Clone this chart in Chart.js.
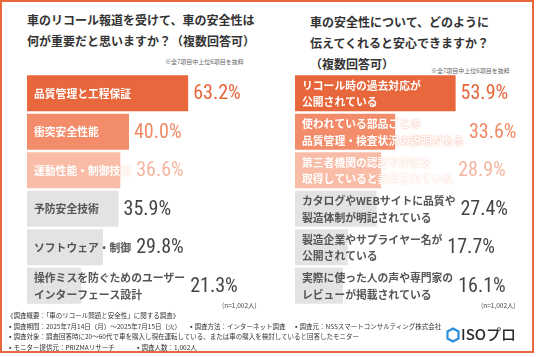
<!DOCTYPE html>
<html><head><meta charset="utf-8">
<script src="https://cdn.jsdelivr.net/npm/chart.js@4/dist/chart.umd.min.js"></script>
<style>
html,body{margin:0;padding:0;background:#fff;}
#root{position:absolute;left:0;top:0;width:536px;height:357px;overflow:hidden;font-family:'Noto Sans CJK JP','Noto Sans',sans-serif;color:#333;background:#fff;}
#frame{position:absolute;left:0;top:0;width:530px;height:349px;border:2px solid #E8673C;}
.title{position:absolute;font-size:12px;font-weight:700;line-height:21px;color:#333;white-space:nowrap;}
.note{position:absolute;font-size:6px;color:#666;white-space:nowrap;line-height:8px;}
.n{position:absolute;font-size:6.5px;color:#444;white-space:nowrap;line-height:8px;}
.foot{position:absolute;font-size:6.5px;color:#333;white-space:nowrap;line-height:9px;}
canvas{position:absolute;}
#logo{position:absolute;left:446px;top:326px;height:18px;white-space:nowrap;}
#logo span{position:absolute;left:15px;top:-3px;font-family:'Noto Sans CJK JP';font-size:15px;font-weight:500;color:#2b2b2b;line-height:22px;}
</style>
</head><body>
<div id="root">
  <div id="frame"></div>
  <div class="title" style="left:27px;top:9px;">車のリコール報道を受けて、車の安全性は<br>何が重要だと思いますか？（複数回答可）</div>
  <div class="note" style="left:165px;top:58px;">※全7項目中上位6項目を抜粋</div>
  <div class="title" style="left:310px;top:11px;">車の安全性について、どのように<br>伝えてくれると安心できますか？<br>（複数回答可）</div>
  <div class="note" style="left:431px;top:67px;">※全7項目中上位6項目を抜粋</div>
  <div style="position:absolute;left:27px;top:74px;width:240px;height:231px;"><canvas id="c1"></canvas></div>
  <div style="position:absolute;left:295px;top:74px;width:236px;height:231px;"><canvas id="c2"></canvas></div>
  <div class="n" style="left:222px;top:301px;">(n=1,002人)</div>
  <div class="n" style="left:481px;top:301px;">(n=1,002人)</div>
  <div class="foot" style="left:7px;top:311px;">《調査概要：「車のリコール問題と安全性」に関する調査》</div>
  <div class="foot" style="left:7px;top:322px;">▪調査期間：2025年7月14日（月）～2025年7月15日（火）</div>
  <div class="foot" style="left:188px;top:322px;">▪調査方法：インターネット調査</div>
  <div class="foot" style="left:293px;top:322px;">▪調査元：NSSスマートコンサルティング株式会社</div>
  <div class="foot" style="left:7px;top:332px;">▪調査対象：調査回答時に20～60代で車を購入し現在運転している、または車の購入を検討していると回答したモニター</div>
  <div class="foot" style="left:7px;top:343px;">▪モニター提供元：PRIZMAリサーチ</div>
  <div class="foot" style="left:135px;top:343px;">▪調査人数：1,002人</div>
  <div id="logo">
    <svg width="14" height="16" viewBox="0 0 14 16" style="position:absolute;left:0;top:1px;">
      <polygon points="7,1.5 12.5,4.5 12.5,11.5 7,14.5 1.5,11.5 1.5,4.5" fill="none" stroke="#2A8FD8" stroke-width="2.2"/>
    </svg>
    <span>ISOプロ</span>
  </div>
</div>
<script>
const leftCategories = [
  ["品質管理と工程保証"],
  ["衝突安全性能"],
  ["運動性能・制御技術"],
  ["予防安全技術"],
  ["ソフトウェア・制御"],
  ["操作ミスを防ぐためのユーザー", "インターフェース設計"]
];
const leftValues = [63.2, 40.0, 36.6, 35.9, 29.8, 21.3];

const rightCategories = [
  ["リコール時の過去対応が", "公開されている"],
  ["使われている部品ごとの", "品質管理・検査状況の説明がある"],
  ["第三者機関の認証や評価を", "取得していると表示されている"],
  ["カタログやWEBサイトに品質や", "製造体制が明記されている"],
  ["製造企業やサプライヤー名が", "公開されている"],
  ["実際に使った人の声や専門家の", "レビューが掲載されている"]
];
const rightValues = [53.9, 33.6, 28.9, 27.4, 17.7, 16.1];

const barColors = ["#E8673C", "#F38C6A", "#F9BCA6", "#E3E3E3", "#E3E3E3", "#E3E3E3"];
const valueColors = ["#E5663A", "#F08A67", "#F6B5A0", "#454545", "#454545", "#454545"];
const labelColors = ["#FFFFFF", "#FFFFFF", "#FFFFFF", "#555555", "#555555", "#555555"];

const labelPlugin = {
  id: 'barText',
  afterDatasetsDraw(chart) {
    const ctx = chart.ctx;
    const meta = chart.getDatasetMeta(0);
    const cats = chart.data.labels;
    const vals = chart.data.datasets[0].data;
    meta.data.forEach((bar, i) => {
      const p = bar.getProps(['x', 'y', 'base'], true);
      const lines = cats[i];
      ctx.save();
      ctx.font = "700 10.8px 'Noto Sans CJK JP'";
      ctx.textBaseline = 'middle';
      ctx.textAlign = 'left';
      ctx.fillStyle = labelColors[i];
      if (i < 3) { ctx.shadowColor = barColors[i]; ctx.shadowBlur = 1.5; }
      const lx = p.base + 7;
      let maxW = 0;
      const off = lines.length === 1 ? [0] : [-8.2, 8.2];
      lines.forEach((t, k) => {
        ctx.fillText(t, lx, p.y + off[k] + 0.5);
        maxW = Math.max(maxW, ctx.measureText(t).width);
      });
      ctx.restore();
      ctx.save();
      const vx = Math.max(p.x, lx + maxW) + 5;
      ctx.font = "20px 'Liberation Sans Narrow', 'Roboto Condensed', Roboto";
      ctx.textBaseline = 'middle';
      ctx.textAlign = 'left';
      ctx.fillStyle = valueColors[i];
      ctx.fillText(vals[i].toFixed(1) + '%', vx, p.y + 1);
      ctx.restore();
    });
  }
};

function makeChart(id, cats, vals, max) {
  new Chart(document.getElementById(id), {
    type: 'bar',
    data: {
      labels: cats,
      datasets: [{ data: vals, backgroundColor: barColors, borderWidth: 0, barPercentage: 0.93, categoryPercentage: 1 }]
    },
    options: {
      indexAxis: 'y',
      responsive: true,
      maintainAspectRatio: false,
      animation: false,
      layout: { padding: 0 },
      plugins: { legend: { display: false }, tooltip: { enabled: false } },
      scales: {
        x: { display: false, min: 0, max: max },
        y: { display: false }
      }
    },
    plugins: [labelPlugin]
  });
}
makeChart('c1', leftCategories, leftValues, 240 / 2.55);
makeChart('c2', rightCategories, rightValues, 236 / 2.98);
</script>
</body></html>
